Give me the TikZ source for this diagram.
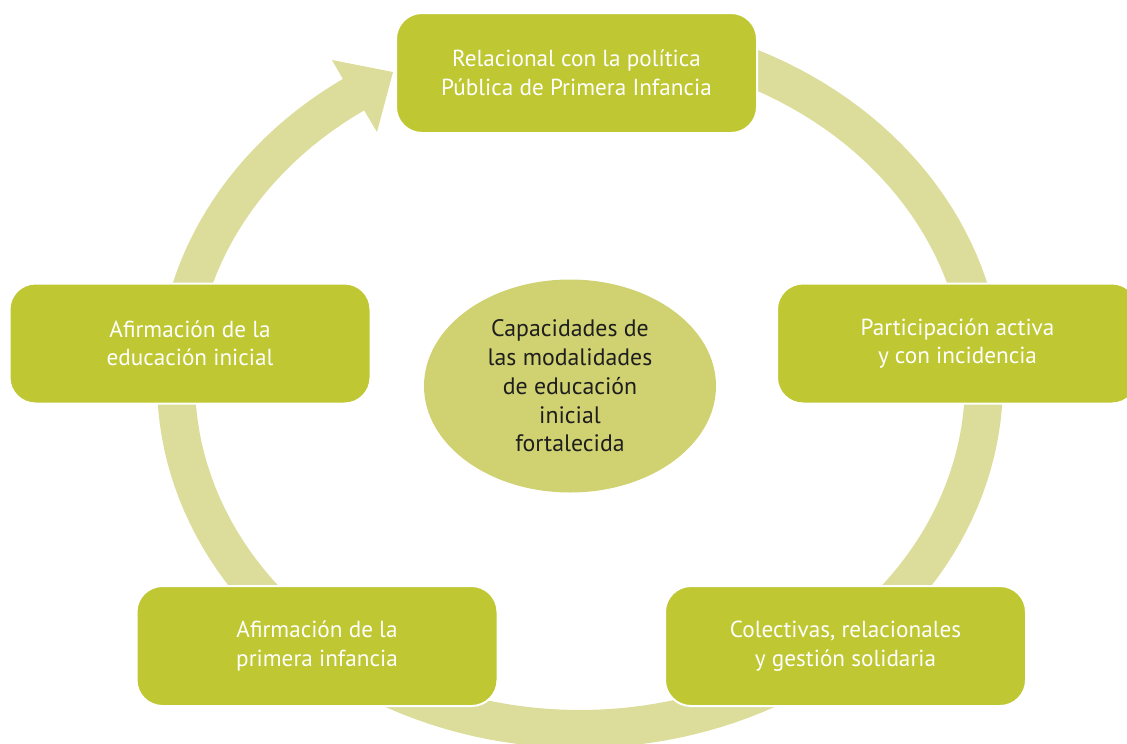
\documentclass[tikz,border=0pt]{standalone}
\usepackage{fontspec}
\setmainfont{PT Sans}
\definecolor{boxc}{RGB}{191,199,50}
\definecolor{bandc}{RGB}{220,221,154}
\definecolor{centc}{RGB}{208,209,112}
\definecolor{textc}{RGB}{30,30,30}
\tikzset{
  stage/.style={draw=white, line width=2pt, fill=boxc, rounded corners=26pt,
    minimum width=361pt, minimum height=120pt, text=white, align=center,
    font=\fontsize{23.2}{28.5}\selectfont, inner sep=0pt},
  core/.style={ellipse, fill=centc, minimum width=292pt, minimum height=213pt,
    text=textc, align=center, font=\fontsize{23.8}{28.8}\selectfont, inner sep=0pt}
}
\usetikzlibrary{shapes.geometric}
\begin{document}
\begin{tikzpicture}[x=1pt,y=-1pt]
\useasboundingbox (0,0) rectangle (1127,744);
\clip (0,0) rectangle (1127,744);
% ring with arrow head
\coordinate (barbA) at (332,60);
\coordinate (tipA) at (393,72);
\coordinate (barbB) at (377,132);
\fill[bandc] plot[domain=275:595.9,samples=160,variable=\t] ({580+423*cos(\t)},{382+366*sin(\t)})
  -- (barbA) -- (tipA) -- (barbB)
  -- plot[domain=595.9:275,samples=160,variable=\t] ({580+385*cos(\t)},{382+328*sin(\t)}) -- cycle;
% boxes
\node[stage] (top) at (576.5,73) {Relacional con la política\\Pública de Primera Infancia};
\node[stage] (right) at (957.5,343.5) {Participación activa\\y con incidencia};
\node[stage] (bright) at (845.5,646) {Colectivas, relacionales\\y gestión solidaria};
\node[stage] (bleft) at (317,646) {Afirmación de la\\primera infancia};
\node[stage] (left) at (190,343.5) {Afirmación de la\\educación inicial};
\node[core] (center) at (570,386) {Capacidades de\\las modalidades\\de educación\\inicial\\fortalecida};
\end{tikzpicture}
\end{document}
